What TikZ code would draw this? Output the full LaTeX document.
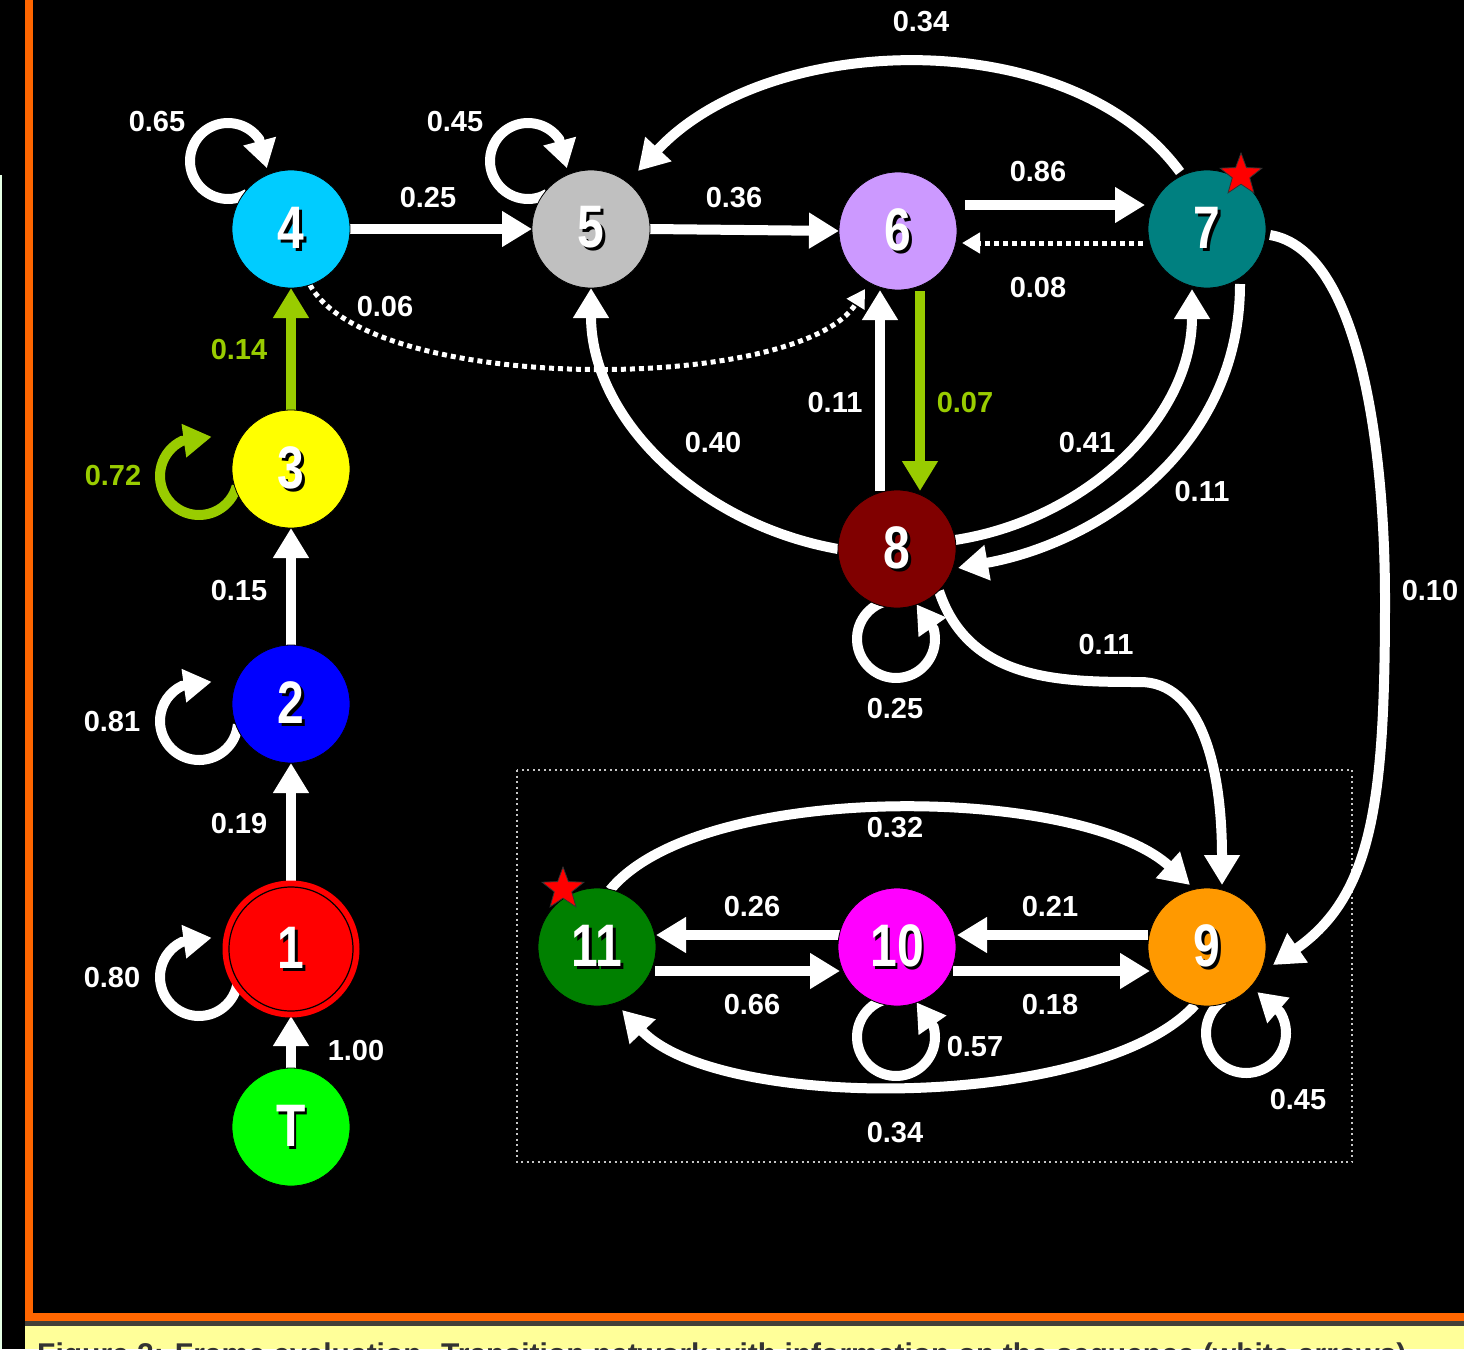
\documentclass[tikz,border=0pt]{standalone}
\usepackage{fontspec}
\setmainfont{Liberation Sans}
\usetikzlibrary{arrows.meta,shapes.geometric}
\definecolor{frameorange}{HTML}{FF6600}
\definecolor{capyellow}{HTML}{FFFF99}
\definecolor{limegreen}{HTML}{99CC00}
\definecolor{cfour}{HTML}{00CCFF}
\definecolor{cfive}{HTML}{C0C0C0}
\definecolor{csix}{HTML}{CC99FF}
\definecolor{cseven}{HTML}{008080}
\definecolor{cthree}{HTML}{FFFF00}
\definecolor{ctwo}{HTML}{0000FF}
\definecolor{cone}{HTML}{FF0000}
\definecolor{cT}{HTML}{00FF00}
\definecolor{ceight}{HTML}{800000}
\definecolor{celeven}{HTML}{008000}
\definecolor{cten}{HTML}{FF00FF}
\definecolor{cnine}{HTML}{FF9900}
\newcommand{\shd}[1]{\scalebox{0.8}[1]{\rlap{\kern3pt\raisebox{-3pt}{\color{black}#1}}{\color{white}#1}}}
\pgfdeclarelayer{bgzero}
\pgfdeclarelayer{edges}
\pgfsetlayers{bgzero,edges,main}
\begin{document}
\begin{tikzpicture}[x=1pt,y=-1pt,
  st/.style={circle, minimum size=118pt, inner sep=0pt, outer sep=0pt, draw=black, line width=0.8pt, font=\fontsize{60}{60}\selectfont\bfseries},
  wl/.style={white, line width=10pt, -{Triangle[width=34pt,length=30pt]}},
  gl/.style={wl, limegreen},
  dl/.style={white, line width=5pt, dash pattern=on 5pt off 4pt, -{Triangle[width=20pt,length=18pt]}},
  lp/.style={white, line width=10pt, -{Triangle[width=32pt,length=28pt]}},
  glp/.style={lp, limegreen},
  lab/.style={text=white, font=\fontsize{29}{30}\selectfont\bfseries, inner sep=0pt},
  glab/.style={lab, text=limegreen},
  starx/.style={star, star points=5, star point ratio=2.4, minimum size=44pt, inner sep=0pt, fill=red, draw=black!80, line width=0.8pt}
]
\useasboundingbox (0,0) rectangle (1464,1349);
\begin{pgfonlayer}{bgzero}
\fill[black] (0,0) rectangle (1464,1349);
\fill[white!90!green] (0,175) rectangle (2,1349);
\fill[frameorange] (25,0) rectangle (33,1321);
\fill[frameorange] (25,1313) rectangle (1464,1321);
\fill[black!85!yellow] (25,1321) rectangle (1464,1326);
\fill[capyellow] (25,1326) rectangle (1464,1349);
\begin{scope}
\clip (25,1326) rectangle (1464,1349);
\node[anchor=base west, inner sep=0pt, text=black!80, font=\fontsize{30}{30}\selectfont\bfseries] (cap) at (37,1364) {Figure 2: Frame evaluation. Transition network with information on the sequence (white arrows)};
\end{scope}
\end{pgfonlayer}

% nodes
\node[st, fill=cfour] (n4) at (291,229) {\shd{4}};
\node[st, fill=cfive] (n5) at (591,229) {\shd{5}};
\node[st, fill=csix] (n6) at (898,231) {\shd{6}};
\node[st, fill=cseven] (n7) at (1207,229) {\shd{7}};
\node[st, fill=cthree] (n3) at (291,469) {\shd{3}};
\node[st, fill=ctwo] (n2) at (291,704) {\shd{2}};
\node[st, fill=cone, draw=cone, line width=3pt, minimum size=134pt] (n1) at (291,949) {\shd{1}};
\draw[black, line width=1.2pt] (n1.center) circle[radius=62];
\node[st, fill=cT] (nT) at (291,1127) {\shd{T}};
\node[st, fill=ceight] (n8) at (897,549) {\shd{8}};
\node[st, fill=celeven] (n11) at (597,947) {\shd{11}};
\node[st, fill=cten] (n10) at (897,947) {\shd{10}};
\node[st, fill=cnine] (n9) at (1207,947) {\shd{9}};
\node[starx] (s7) at (1241,175) {};
\node[starx] (s11) at (563,889) {};

\coordinate (v89) at (1140,682);
\coordinate (v79) at (1385,600);

\begin{pgfonlayer}{edges}
\draw[gray!45, line width=2pt, dash pattern=on 2pt off 3.5pt] (517,770) rectangle (1352,1162);
% straight
\draw[wl] (nT.north) -- (n1.south);
\draw[wl] (n1.north) -- (n2.south);
\draw[wl] (n2.north) -- (n3.south);
\draw[gl] (n3.north) -- (n4.south);
\draw[wl] (n4.east) -- (n5.west);
\draw[wl] (n5.east) -- (n6.west);
\draw[wl] ([shift={(67,-26)}]n6.center) -- ([shift={(-62,-24)}]n7.center);
\draw[dl] ([shift={(-64,14)}]n7.center) -- ([shift={(64,12)}]n6.center);
\draw[wl] ([shift={(-17,-58)}]n8.center) -- ([shift={(-18,59)}]n6.center);
\draw[gl] ([shift={(22,60)}]n6.center) -- ([shift={(23,-58)}]n8.center);
\draw[wl] ([shift={(-57,-12)}]n10.center) -- ([shift={(59,-12)}]n11.center);
\draw[wl] ([shift={(58,24)}]n11.center) -- ([shift={(-57,24)}]n10.center);
\draw[wl] ([shift={(-59,-12)}]n9.center) -- ([shift={(60,-12)}]n10.center);
\draw[wl] ([shift={(56,24)}]n10.center) -- ([shift={(-57,24)}]n9.center);
% curves
\draw[dl] ([shift={(19,56)}]n4.center) .. controls +(60,110) and +(-65,105) .. ([shift={(-33,58)}]n6.center);
\draw[wl] ([shift={(-27,-57)}]n7.center) .. controls +(-110,-150) and +(130,-140) .. ([shift={(47,-58)}]n5.center);
\draw[wl] (n8.west) .. controls +(-140,-25) and +(0,130) .. (n5.south);
\draw[wl] ([shift={(58,-9)}]n8.center) .. controls +(130,-20) and +(0,130) .. ([shift={(-15,60)}]n7.center);
\draw[wl] ([shift={(33,55)}]n7.center) .. controls +(0,165) and +(140,-25) .. ([shift={(61,19)}]n8.center);
\draw[wl] ([shift={(42,42)}]n8.center) .. controls +(30,90) and +(-80,0) .. (v89) .. controls +(60,0) and +(0,-120) .. ([shift={(15,-62)}]n9.center);
\draw[wl] ([shift={(63,6)}]n7.center) .. controls +(90,15) and +(0,-150) .. (v79) .. controls +(0,200) and +(100,-70) .. ([shift={(66,18)}]n9.center);
\draw[wl] ([shift={(13,-57)}]n11.center) .. controls +(90,-110) and +(-110,-100) .. ([shift={(-17,-62)}]n9.center);
\draw[wl] ([shift={(-12,58)}]n9.center) .. controls +(-95,105) and +(98,103) .. ([shift={(25,63)}]n11.center);
% self loops
\draw[lp] ([shift={(-63,-68)}]n4.center) ++(60:38) arc[start angle=60, end angle=325, radius=38] -- ++(75:30);
\draw[lp] ([shift={(-63,-68)}]n5.center) ++(60:38) arc[start angle=60, end angle=325, radius=38] -- ++(75:30);
\draw[glp] ([shift={(-92,7)}]n3.center) ++(15:39) arc[start angle=15, end angle=244, radius=39] -- ++(-8:30);
\draw[lp] ([shift={(-92,17)}]n2.center) ++(5:39) arc[start angle=5, end angle=244, radius=39] -- ++(-8:30);
\draw[lp] ([shift={(-92,28)}]n1.center) ++(-10:39) arc[start angle=-10, end angle=244, radius=39] -- ++(-8:30);
\draw[lp] ([shift={(-1,90)}]n8.center) ++(250:39) arc[start angle=250, end angle=-15, radius=39] -- ++(-125:30);
\draw[lp] ([shift={(-1,90)}]n10.center) ++(250:39) arc[start angle=250, end angle=-15, radius=39] -- ++(-125:30);
\draw[lp] ([shift={(39,86)}]n9.center) ++(235:40) arc[start angle=235, end angle=-32, radius=40] -- ++(-139:30);
\end{pgfonlayer}

% labels
\node[lab] (a1) at (157,122) {0.65};
\node[lab] (a2) at (455,122) {0.45};
\node[lab] (a3) at (428,198) {0.25};
\node[lab] (a4) at (734,198) {0.36};
\node[lab] (a5) at (1038,172) {0.86};
\node[lab] (a6) at (1038,288) {0.08};
\node[lab] (a7) at (921,22) {0.34};
\node[lab] (a8) at (385,307) {0.06};
\node[glab] (a9) at (239,350) {0.14};
\node[glab] (a10) at (113,476) {0.72};
\node[lab] (a11) at (239,591) {0.15};
\node[lab] (a12) at (112,722) {0.81};
\node[lab] (a13) at (239,824) {0.19};
\node[lab] (a14) at (112,978) {0.80};
\node[lab] (a15) at (356,1051) {1.00};
\node[lab] (a16) at (835,403) {0.11};
\node[glab] (a17) at (965,403) {0.07};
\node[lab] (a18) at (713,443) {0.40};
\node[lab] (a19) at (1087,443) {0.41};
\node[lab] (a20) at (1202,492) {0.11};
\node[lab] (a21) at (1430,591) {0.10};
\node[lab] (a22) at (1106,645) {0.11};
\node[lab] (a23) at (895,709) {0.25};
\node[lab] (a24) at (895,828) {0.32};
\node[lab] (a25) at (752,907) {0.26};
\node[lab] (a26) at (1050,907) {0.21};
\node[lab] (a27) at (752,1005) {0.66};
\node[lab] (a28) at (1050,1005) {0.18};
\node[lab] (a29) at (975,1047) {0.57};
\node[lab] (a30) at (1298,1100) {0.45};
\node[lab] (a31) at (895,1133) {0.34};
\end{tikzpicture}
\end{document}
